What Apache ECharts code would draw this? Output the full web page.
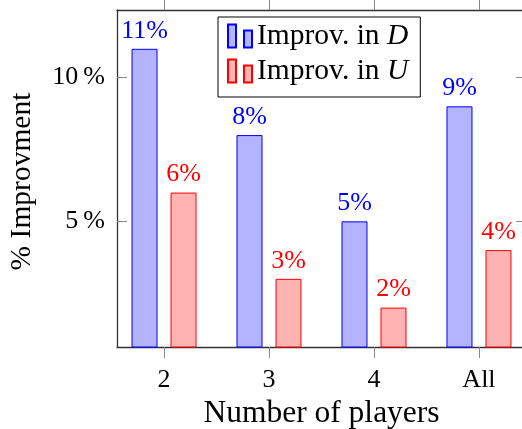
<!DOCTYPE html>
<html>
<head>
<meta charset="utf-8">
<script src="https://cdn.jsdelivr.net/npm/echarts@6/dist/echarts.min.js"></script>
<style>html,body{margin:0;padding:0;background:#fff}#c{width:522px;height:429px}</style>
</head>
<body>
<div id="c"></div>
<script>
var categories = ['2', '3', '4', 'All'];
var improvD = [11, 8, 5, 9];
var improvU = [6, 3, 2, 4];
var yTicks = [5, 10];
var yTickLabels = ['5\u2009%', '10\u2009%'];

var catPos = categories.map(function (c, i) { return i; });
var serif = 'Liberation Serif';
var chart = echarts.init(document.getElementById('c'));
var iconPath = 'path://M0,0L8,0L8,23L0,23Z M16,6L24,6L24,23L16,23Z';
var tickColor = '#888';

function pts(vals) { return vals.map(function (v, i) { return [catPos[i], v]; }); }

var xBase = {
  type: 'value', min: -0.448, max: 3.448,
  splitLine: { show: false },
  axisLine: { show: true, onZero: false, lineStyle: { color: '#333', width: 1.3 } }
};
var yBase = {
  type: 'value', min: 0.63, max: 12.35,
  splitLine: { show: false },
  axisLine: { show: true, onZero: false, lineStyle: { color: '#333', width: 1.3 } }
};

chart.setOption({
  animation: false,
  grid: { left: 117, top: 10, width: 409, height: 337, containLabel: false, outerBoundsMode: 'none' },
  legend: {
    orient: 'vertical', left: 218, top: 17,
    padding: [4, 12, 11, 9], itemGap: 5,
    itemWidth: 24, itemHeight: 23,
    backgroundColor: '#fff', borderColor: '#000', borderWidth: 1, borderRadius: 0,
    data: [
      { name: 'Improv. in D', icon: iconPath },
      { name: 'Improv. in U', icon: iconPath }
    ],
    formatter: function (n) { return 'Improv. in {i|' + n.slice(-1) + '}'; },
    textStyle: {
      fontFamily: serif, fontSize: 29.5, color: '#000',
      rich: { i: { fontFamily: serif, fontStyle: 'italic', fontSize: 29.5, color: '#000' } }
    }
  },
  xAxis: [
    Object.assign({}, xBase, {
      position: 'bottom',
      name: 'Number of players', nameLocation: 'middle', nameGap: 50,
      nameTextStyle: { fontFamily: serif, fontSize: 31.5, color: '#000' },
      axisTick: { show: true, inside: false, length: 11, customValues: catPos, lineStyle: { color: tickColor, width: 1 } },
      axisLabel: {
        show: true, margin: 20, customValues: catPos,
        fontFamily: serif, fontSize: 26, color: '#000',
        formatter: function (v) { return categories[Math.round(v)]; }
      }
    }),
    Object.assign({}, xBase, {
      position: 'top',
      axisTick: { show: true, inside: false, length: 11, customValues: catPos, lineStyle: { color: tickColor, width: 1 } },
      axisLabel: { show: false }
    })
  ],
  yAxis: [
    Object.assign({}, yBase, {
      position: 'left',
      name: '% Improvment', nameLocation: 'middle', nameGap: 80,
      nameTextStyle: { fontFamily: serif, fontSize: 29.5, color: '#000', padding: [0, 6, 0, 0] },
      axisTick: { show: true, inside: true, length: 10, customValues: yTicks, lineStyle: { color: tickColor, width: 1 } },
      axisLabel: {
        show: true, margin: 12, customValues: yTicks,
        fontFamily: serif, fontSize: 26, color: '#000',
        formatter: function (v) { return yTickLabels[yTicks.indexOf(v)]; }
      }
    }),
    Object.assign({}, yBase, {
      position: 'right',
      axisTick: { show: true, inside: true, length: 10, customValues: yTicks, lineStyle: { color: tickColor, width: 1 } },
      axisLabel: { show: false }
    })
  ],
  series: [
    {
      name: 'Improv. in D', type: 'bar', xAxisIndex: 0, yAxisIndex: 0,
      barWidth: 26, barGap: '50%',
      itemStyle: { color: '#b3b3ff', borderColor: '#0000ff', borderWidth: 1 },
      label: {
        show: true, position: 'top', distance: 5,
        fontFamily: serif, fontSize: 26, color: '#0000ff',
        formatter: function (p) { return p.value[1] + '%'; }
      },
      data: pts(improvD)
    },
    {
      name: 'Improv. in U', type: 'bar', xAxisIndex: 0, yAxisIndex: 0,
      barWidth: 26, barGap: '50%',
      itemStyle: { color: '#ffb3b3', borderColor: '#ff0000', borderWidth: 1 },
      label: {
        show: true, position: 'top', distance: 5,
        fontFamily: serif, fontSize: 26, color: '#ff0000',
        formatter: function (p) { return p.value[1] + '%'; }
      },
      data: pts(improvU)
    }
  ]
});
</script>
</body>
</html>
